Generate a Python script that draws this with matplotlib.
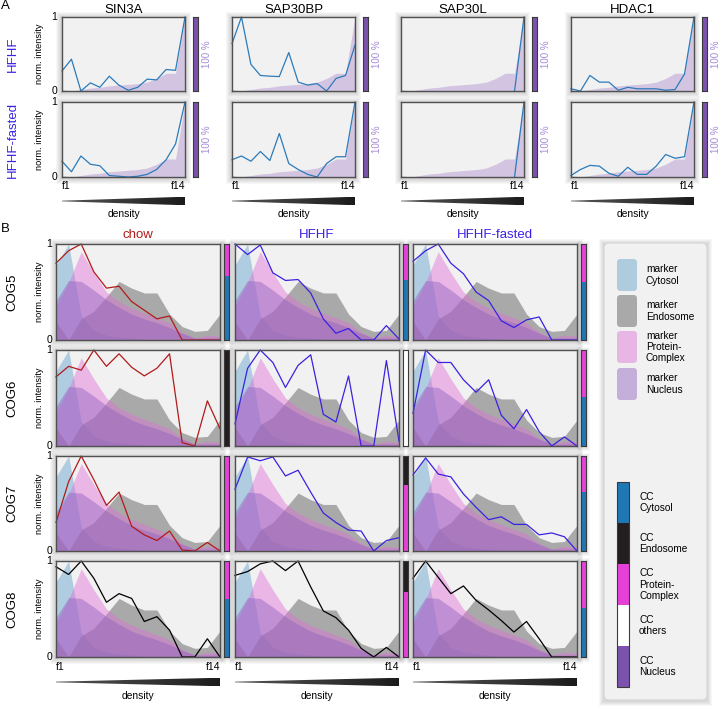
import numpy as np
import matplotlib
matplotlib.use("Agg")
import matplotlib.pyplot as plt
from matplotlib.patches import Rectangle, FancyBboxPatch, Polygon
from matplotlib.colors import LinearSegmentedColormap

plt.rcParams['font.family'] = ['Liberation Sans', 'DejaVu Sans']

# ---------------- data ----------------
fractions = ["f%d" % i for i in range(1, 15)]

# Panel A
a_genes = ["SIN3A", "SAP30BP", "SAP30L", "HDAC1"]
a_conditions = ["HFHF", "HFHF-fasted"]
a_nucleus_marker = [0.02, 0.0, 0.02, 0.04, 0.05, 0.07, 0.08, 0.09, 0.10, 0.12, 0.17, 0.24, 0.24, 1.0]
nan = np.nan
a_sin3a_hfhf = [0.27, 0.43, 0.0, 0.11, 0.05, 0.20, 0.08, 0.01, 0.05, 0.16, 0.15, 0.29, 0.28, 1.0]
a_sin3a_fasted = [0.21, 0.07, 0.28, 0.17, 0.15, 0.02, 0.01, 0.0, 0.01, 0.035, 0.10, 0.23, 0.44, 1.0]
a_sap30bp_hfhf = [0.64, 1.0, 0.36, 0.21, 0.20, 0.195, 0.52, 0.12, 0.08, 0.10, 0.0, 0.17, 0.21, 0.62]
a_sap30bp_fasted = [0.23, 0.28, 0.21, 0.34, 0.22, 0.58, 0.18, 0.10, 0.035, 0.0, 0.18, 0.27, 0.27, 1.0]
a_sap30l_hfhf = [nan, nan, nan, nan, nan, nan, nan, nan, nan, nan, nan, nan, 0.0, 1.0]
a_sap30l_fasted = [nan, nan, nan, nan, nan, nan, nan, nan, nan, nan, nan, nan, 0.0, 1.0]
a_hdac1_hfhf = [0.03, 0.0, 0.21, 0.12, 0.12, 0.01, 0.05, 0.03, 0.03, 0.03, 0.01, 0.02, 0.23, 1.0]
a_hdac1_fasted = [0.02, 0.10, 0.155, 0.145, 0.05, 0.01, 0.13, 0.035, 0.035, 0.145, 0.30, 0.25, 0.27, 1.0]
a_profiles = {
    ("SIN3A", "HFHF"): a_sin3a_hfhf, ("SIN3A", "HFHF-fasted"): a_sin3a_fasted,
    ("SAP30BP", "HFHF"): a_sap30bp_hfhf, ("SAP30BP", "HFHF-fasted"): a_sap30bp_fasted,
    ("SAP30L", "HFHF"): a_sap30l_hfhf, ("SAP30L", "HFHF-fasted"): a_sap30l_fasted,
    ("HDAC1", "HFHF"): a_hdac1_hfhf, ("HDAC1", "HFHF-fasted"): a_hdac1_fasted,
}
a_bar_label = "100 %"

# Panel B markers
b_cytosol = [0.78, 1.0, 0.25, 0.10, 0.05, 0.03, 0.02, 0.01, 0.0, 0.0, 0.0, 0.0, 0.0, 0.0]
b_endosome = [0.19, 0.0, 0.22, 0.30, 0.45, 0.61, 0.54, 0.49, 0.49, 0.27, 0.14, 0.09, 0.10, 0.27]
b_protein_complex = [0.35, 0.60, 0.92, 0.70, 0.50, 0.40, 0.33, 0.28, 0.23, 0.18, 0.08, 0.02, 0.05, 0.04]
b_nucleus = [0.41, 0.62, 0.61, 0.52, 0.42, 0.34, 0.27, 0.22, 0.18, 0.13, 0.07, 0.02, 0.02, 0.02]

b_conditions = ["chow", "HFHF", "HFHF-fasted"]
b_genes = ["COG5", "COG6", "COG7", "COG8"]

b_chow = [
    [0.80, 0.93, 1.0, 0.71, 0.54, 0.56, 0.40, 0.31, 0.22, 0.25, 0.0, 0.0, 0.0, 0.0],
    [0.72, 0.83, 0.79, 1.0, 0.83, 0.96, 0.82, 0.73, 0.81, 0.96, 0.035, 0.0, 0.47, 0.18],
    [0.30, 0.73, 1.0, 0.75, 0.48, 0.62, 0.26, 0.17, 0.11, 0.21, 0.01, 0.0, 0.09, 0.0],
    [0.94, 0.86, 1.0, 0.82, 0.57, 0.66, 0.61, 0.37, 0.42, 0.28, 0.0, 0.0, 0.19, 0.0],
]
b_hfhf = [
    [1.0, 0.89, 0.99, 0.70, 0.62, 0.63, 0.49, 0.22, 0.07, 0.12, 0.0, 0.0, 0.15, 0.01],
    [0.23, 0.81, 1.0, 0.87, 0.61, 0.84, 0.95, 0.33, 0.25, 0.73, 0.0, 0.0, 0.89, 0.05],
    [0.65, 0.99, 0.95, 0.99, 0.79, 0.85, 0.62, 0.40, 0.30, 0.22, 0.21, 0.0, 0.11, 0.14],
    [0.85, 0.89, 0.97, 1.0, 0.90, 1.0, 0.73, 0.48, 0.41, 0.28, 0.09, 0.0, 0.10, 0.0],
]
b_fasted = [
    [0.82, 0.93, 1.0, 0.80, 0.69, 0.50, 0.41, 0.20, 0.13, 0.21, 0.24, 0.0, 0.0, 0.0],
    [0.34, 1.0, 0.87, 0.87, 0.69, 0.56, 0.69, 0.32, 0.18, 0.38, 0.15, 0.0, 0.095, 0.0],
    [0.80, 0.98, 0.81, 0.78, 0.60, 0.46, 0.33, 0.36, 0.28, 0.28, 0.17, 0.19, 0.15, 0.0],
    [0.82, 1.0, 0.83, 0.66, 0.74, 0.59, 0.49, 0.38, 0.26, 0.37, 0.19, 0.0, 0.0, 0.0],
]
b_profiles = [b_chow, b_hfhf, b_fasted]

# CC composition bars [condition][gene]
cc_classes = ["Cytosol", "Endosome", "Protein-\nComplex", "others", "Nucleus"]
cc_cytosol = [[0.67, 0.0, 0.0, 0.60], [0.62, 0.0, 0.0, 0.0], [0.60, 0.51, 0.625, 0.51]]
cc_endosome = [[0.0, 1.0, 0.0, 0.0], [0.0, 0.0, 0.31, 0.32], [0.0, 0.0, 0.0, 0.0]]
cc_protein_complex = [[0.33, 0.0, 1.0, 0.40], [0.38, 0.0, 0.69, 0.68], [0.40, 0.49, 0.375, 0.49]]
cc_others = [[0.0, 0.0, 0.0, 0.0], [0.0, 1.0, 0.0, 0.0], [0.0, 0.0, 0.0, 0.0]]
cc_nucleus = [[0.0, 0.0, 0.0, 0.0], [0.0, 0.0, 0.0, 0.0], [0.0, 0.0, 0.0, 0.0]]

marker_names = ["marker\nCytosol", "marker\nEndosome", "marker\nProtein-\nComplex", "marker\nNucleus"]

# ---------------- styles ----------------
BG = '#f1f1f1'
SPINE = '#505050'
C_CYTO, A_CYTO = '#6fa8d0', 0.5
C_ENDO, A_ENDO = '#6e6e6e', 0.55
C_PC, A_PC = '#e070d8', 0.45
C_NUC, A_NUC = '#9060c0', 0.45
CC_COL = {"Cytosol": '#1f77b4', "Endosome": '#231f20', "Protein-\nComplex": '#e541d8',
          "others": '#ffffff', "Nucleus": '#7b52ae'}
LINE_A = '#2b7bba'
COND_COL = {"chow": '#b21a1a', "HFHF": '#3a22e0', "HFHF-fasted": '#3a22e0'}

W, H = 720, 712
fig = plt.figure(figsize=(7.2, 7.12), dpi=100)


def ax_px(x0, y0, x1, y1, **kw):
    return fig.add_axes([x0 / W, 1 - y1 / H, (x1 - x0) / W, (y1 - y0) / H], **kw)


def ftext(x, y, s, **kw):
    return fig.text(x / W, 1 - y / H, s, **kw)


def shadow(x0, y0, x1, y1, n=6, a=0.03):
    for pad in range(1, n + 1):
        r = Rectangle(((x0 - pad) / W, 1 - (y1 + pad + 1) / H), (x1 - x0 + 2 * pad) / W,
                      (y1 - y0 + 2 * pad) / H, transform=fig.transFigure, facecolor='k',
                      alpha=a, edgecolor='none', zorder=-5)
        fig.add_artist(r)


def style_ax(ax):
    ax.set_facecolor(BG)
    for s in ax.spines.values():
        s.set_color(SPINE)
        s.set_linewidth(1.0)
    ax.set_xlim(0, 13)
    ax.set_ylim(0, 1)
    ax.set_xticks([])
    ax.set_yticks([])


wedge_cmap = LinearSegmentedColormap.from_list('w', ['#555555', '#1c1c1c'])


def wedge(x0, x1, yc, h):
    ax = ax_px(x0, yc - h / 2, x1, yc + h / 2)
    ax.set_xlim(0, 1)
    ax.set_ylim(-0.5, 0.5)
    ax.axis('off')
    grad = np.linspace(0, 1, 256)[None, :]
    im = ax.imshow(grad, extent=[0, 1, -0.5, 0.5], aspect='auto', cmap=wedge_cmap, origin='lower')
    poly = Polygon([(0, 0.04), (1, 0.5), (1, -0.5), (0, -0.04)], closed=True,
                   transform=ax.transData, facecolor='none', edgecolor='none')
    ax.add_patch(poly)
    im.set_clip_path(poly)


x = np.arange(14)

# ---------------- Panel A ----------------
ftext(5, 6, "A", fontsize=9.5, ha='center', va='center')
a_x0 = [62, 232, 401, 571]
a_w = 123
a_rows = [(17, 91), (102, 177)]
for ci, gene in enumerate(a_genes):
    x0 = a_x0[ci]
    x1 = x0 + a_w
    ftext((x0 + x1) / 2, 10, gene, fontsize=9.5, ha='center', va='center')
    for ri, cond in enumerate(a_conditions):
        y0, y1 = a_rows[ri]
        shadow(x0, y0, x1, y1)
        ax = ax_px(x0, y0, x1, y1)
        style_ax(ax)
        ax.fill_between(x, 0, a_nucleus_marker, color=C_NUC, alpha=0.3, linewidth=0)
        ax.plot(x, a_profiles[(gene, cond)], color=LINE_A, lw=0.9, clip_on=False)
        # bar
        bx = ax_px(x1 + 8, y0, x1 + 13, y1)
        bx.bar(0, 1.0, width=1, color=CC_COL["Nucleus"], linewidth=0)
        bx.set_xlim(-0.5, 0.5)
        bx.set_ylim(0, 1)
        bx.set_xticks([]); bx.set_yticks([])
        for s in bx.spines.values():
            s.set_color('#3a3a3a'); s.set_linewidth(0.8)
        ftext(x1 + 22, (y0 + y1) / 2, a_bar_label, fontsize=7, color='#a58ad8',
              rotation=90, ha='center', va='center')
        if ci == 0:
            ftext(57, y0, "1", fontsize=7.5, ha='right', va='center')
            ftext(57, y1, "0", fontsize=7.5, ha='right', va='center')
            ftext(40, (y0 + y1) / 2, "norm. intensity", fontsize=6.7, rotation=90,
                  ha='center', va='center')
            ftext(13, (y0 + y1) / 2, cond, fontsize=9.5, rotation=90, ha='center',
                  va='center', color=COND_COL[cond])
    ftext(x0, 186, fractions[0], fontsize=7.5, ha='left', va='center')
    ftext(x1, 186, fractions[-1], fontsize=7.5, ha='right', va='center')
    wedge(x0, x1, 201, 8.5)
    ftext((x0 + x1) / 2, 214, "density", fontsize=7.4, ha='center', va='center')

# ---------------- Panel B ----------------
ftext(5, 229, "B", fontsize=9.5, ha='center', va='center')
b_x0 = [56, 235, 413]
b_w = 164
b_rows = [(244, 340), (350, 446), (456, 551), (561, 657)]
for ci, cond in enumerate(b_conditions):
    x0 = b_x0[ci]
    x1 = x0 + b_w
    ftext((x0 + x1) / 2, 235, cond, fontsize=9.5, ha='center', va='center', color=COND_COL[cond])
    for ri, gene in enumerate(b_genes):
        y0, y1 = b_rows[ri]
        shadow(x0, y0, x1, y1)
        ax = ax_px(x0, y0, x1, y1)
        style_ax(ax)
        ax.fill_between(x, 0, b_cytosol, color=C_CYTO, alpha=A_CYTO, linewidth=0)
        ax.fill_between(x, 0, b_endosome, color=C_ENDO, alpha=A_ENDO, linewidth=0)
        ax.fill_between(x, 0, b_protein_complex, color=C_PC, alpha=A_PC, linewidth=0)
        ax.fill_between(x, 0, b_nucleus, color=C_NUC, alpha=A_NUC, linewidth=0)
        lc = 'black' if gene == "COG8" else COND_COL[cond]
        ax.plot(x, b_profiles[ci][ri], color=lc, lw=0.9, clip_on=False)
        # CC bar
        shadow(x1 + 4, y0, x1 + 8.5, y1, n=4)
        bx = ax_px(x1 + 4, y0, x1 + 8.5, y1)
        bottom = 0.0
        for name, arr in [("Nucleus", cc_nucleus), ("others", cc_others), ("Cytosol", cc_cytosol),
                          ("Protein-\nComplex", cc_protein_complex), ("Endosome", cc_endosome)]:
            v = arr[ci][ri]
            if v > 0:
                bx.bar(0, v, bottom=bottom, width=1, color=CC_COL[name], linewidth=0)
                bottom += v
        bx.set_xlim(-0.5, 0.5)
        bx.set_ylim(0, 1)
        bx.set_xticks([]); bx.set_yticks([])
        for s in bx.spines.values():
            s.set_color('#3a3a3a'); s.set_linewidth(0.8)
        if ci == 0:
            ftext(52, y0, "1", fontsize=7.5, ha='right', va='center')
            ftext(52, y1, "0", fontsize=7.5, ha='right', va='center')
            ftext(39, (y0 + y1) / 2, "norm. intensity", fontsize=6.7, rotation=90,
                  ha='center', va='center')
            ftext(12, (y0 + y1) / 2, gene, fontsize=9.5, rotation=90, ha='center', va='center')
    ftext(x0, 667, fractions[0], fontsize=7.5, ha='left', va='center')
    ftext(x1, 667, fractions[-1], fontsize=7.5, ha='right', va='center')
    wedge(x0, x1, 682, 8.5)
    ftext((x0 + x1) / 2, 696, "density", fontsize=7.4, ha='center', va='center')

# ---------------- Legend ----------------
lx0, ly0, lx1, ly1 = 604, 243, 707, 700
shadow(lx0, ly0, lx1, ly1, n=5, a=0.03)
box = FancyBboxPatch((lx0 / W, 1 - ly1 / H), (lx1 - lx0) / W, (ly1 - ly0) / H,
                     boxstyle="round,pad=0,rounding_size=0.007", transform=fig.transFigure,
                     facecolor='#f0f1f0', edgecolor='#d5d5d5', linewidth=0.8, zorder=-1)
fig.add_artist(box)

sw_cols = [(C_CYTO, A_CYTO), (C_ENDO, A_ENDO), (C_PC, A_PC), (C_NUC, A_NUC)]
sw_y = [259, 295, 331, 368]
for (c, a), yy, name in zip(sw_cols, sw_y, marker_names):
    sw = FancyBboxPatch((617 / W, 1 - (yy + 32) / H), 20 / W, 32 / H,
                        boxstyle="round,pad=0,rounding_size=0.005", transform=fig.transFigure,
                        facecolor=c, alpha=a, edgecolor='none', zorder=2)
    fig.add_artist(sw)
    ftext(646, yy + 16, name, fontsize=7.3, ha='left', va='center', linespacing=1.15)

cb_y0 = 482
seg = 41
for i, name in enumerate(cc_classes):
    r = Rectangle((617 / W, 1 - (cb_y0 + (i + 1) * seg) / H), 12 / W, seg / H,
                  transform=fig.transFigure, facecolor=CC_COL[name], edgecolor='none', zorder=2)
    fig.add_artist(r)
    ftext(639, cb_y0 + (i + 0.5) * seg, "CC\n" + name, fontsize=7.3, ha='left', va='center',
          linespacing=1.15)
outline = Rectangle((617 / W, 1 - (cb_y0 + 5 * seg) / H), 12 / W, 5 * seg / H,
                    transform=fig.transFigure, facecolor='none', edgecolor='#3a3a3a',
                    linewidth=0.8, zorder=3)
fig.add_artist(outline)

fig.savefig("out.png", dpi=100)
